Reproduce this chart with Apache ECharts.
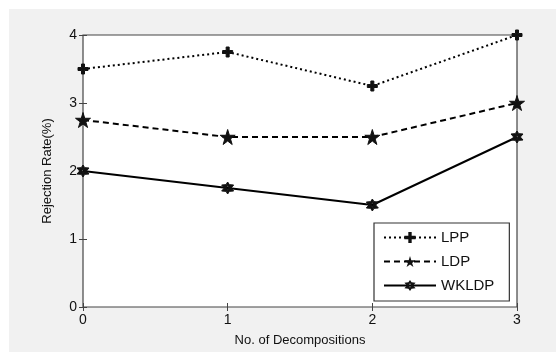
<!DOCTYPE html>
<html><head><meta charset="utf-8">
<script src="https://cdn.jsdelivr.net/npm/echarts@6/dist/echarts.min.js"></script>
<style>html,body{margin:0;padding:0;background:#fff;overflow:hidden}#c{position:absolute;left:9px;top:9px;width:547px;height:343px}</style>
</head><body><div id="c"></div>
<script>
const categories = [0, 1, 2, 3];
const lpp = [3.5, 3.75, 3.25, 4];
const ldp = [2.75, 2.5, 2.5, 3];
const wkldp = [2, 1.75, 1.5, 2.5];
const yTicks = [0, 1, 2, 3, 4];

const plusSym = 'path://M3.5,0 L6.5,0 L6.5,3.5 L10,3.5 L10,6.5 L6.5,6.5 L6.5,10 L3.5,10 L3.5,6.5 L0,6.5 L0,3.5 L3.5,3.5 Z';
const starSym = 'path://M50,0 L61,35 L98,35 L68,57 L79,91 L50,70 L21,91 L32,57 L2,35 L39,35 Z';
const hexSym = 'path://M50,0 L62,22 L93,25 L74,50 L93,75 L62,78 L50,100 L38,78 L7,75 L26,50 L7,25 L38,22 Z M50,30 L42,45 L50,70 L58,45 Z';

const font = 'Liberation Sans, Arial, sans-serif';
const chart = echarts.init(document.getElementById('c'));
const mk = (name, data, type, sym, size) => ({
  name, type: 'line', data: data.map((v, i) => [categories[i], v]),
  symbol: sym, symbolSize: size,
  lineStyle: { color: '#000', width: 2, type: type === 'dashed' ? [6, 4] : (type === 'dotted' ? [2, 3] : 'solid') },
  itemStyle: { color: '#111', borderColor: '#111' },
  z: 3
});
const tick = { inside: true, length: 4, lineStyle: { color: '#444' } };
chart.setOption({
  backgroundColor: '#f1f1f1',
  animation: false,
  textStyle: { fontFamily: font },
  grid: { left: 74, right: 39, top: 26, bottom: 44, show: true, backgroundColor: '#fff', borderColor: '#444', borderWidth: 1.2 },
  xAxis: [{
    type: 'value', min: 0, max: 3, interval: 1,
    name: 'No. of Decompositions', nameLocation: 'middle', nameGap: 27,
    nameTextStyle: { color: '#111', fontSize: 13, fontFamily: font },
    axisLine: { show: false }, splitLine: { show: false },
    axisTick: tick,
    axisLabel: { color: '#111', fontSize: 14, margin: 6, fontFamily: font }
  }, {
    type: 'value', min: 0, max: 3, interval: 1, position: 'top',
    axisLine: { show: false }, splitLine: { show: false },
    axisTick: tick, axisLabel: { show: false }
  }],
  yAxis: [{
    type: 'value', min: 0, max: 4, interval: 1,
    name: 'Rejection Rate(%)', nameLocation: 'middle', nameGap: 29,
    nameTextStyle: { color: '#111', fontSize: 13, fontFamily: font },
    axisLine: { show: false }, splitLine: { show: false },
    axisTick: tick,
    axisLabel: { color: '#111', fontSize: 14, margin: 6, fontFamily: font }
  }, {
    type: 'value', min: 0, max: 4, interval: 1, position: 'right',
    axisLine: { show: false }, splitLine: { show: false },
    axisTick: tick, axisLabel: { show: false }
  }],
  legend: {
    orient: 'vertical', left: 365, top: 214,
    backgroundColor: '#fff', borderColor: '#333', borderWidth: 1.2,
    padding: [7, 15, 8, 9], itemGap: 9, itemWidth: 52, itemHeight: 14,
    textStyle: { color: '#111', fontSize: 15, fontFamily: font },
    data: ['LPP', 'LDP', 'WKLDP']
  },
  series: [
    mk('LPP', lpp, 'dotted', plusSym, 10),
    mk('LDP', ldp, 'dashed', starSym, 15),
    mk('WKLDP', wkldp, 'solid', hexSym, 12)
  ]
});
</script></body></html>
